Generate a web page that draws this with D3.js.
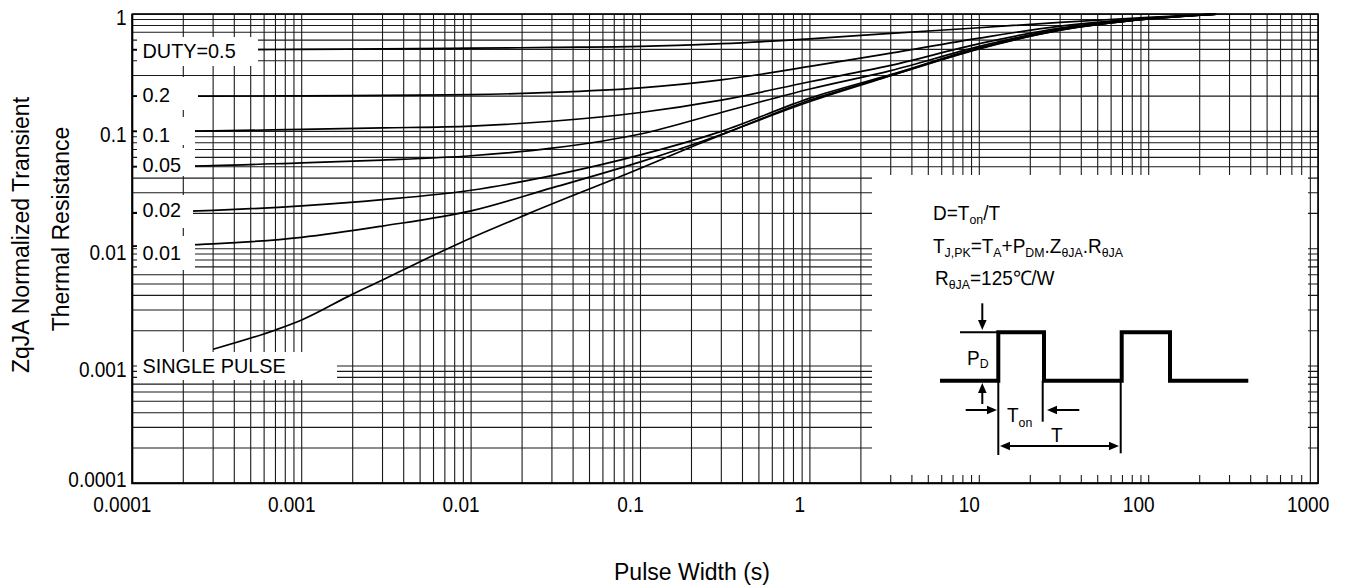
<!DOCTYPE html>
<html><head><meta charset="utf-8">
<script src="https://cdn.jsdelivr.net/npm/d3@7"></script>
<style>
body{margin:0;background:#fff;}
text{font-family:Arial,"Liberation Sans",sans-serif;fill:#000;}
</style>
</head><body>
<svg id="c" width="1346" height="588"></svg>
<script>
// ---------------- data ----------------
const xTickLabels = ["0.0001","0.001","0.01","0.1","1","10","100","1000"];
const yTickLabels = ["0.0001","0.001","0.01","0.1","1"];
const curveLabels = ["DUTY=0.5","0.2","0.1","0.05","0.02","0.01","SINGLE PULSE"];

const pulseWidth = [1e-4, 3e-4, 1e-3, 3e-3, 1e-2, 3e-2, 0.1, 0.3, 1, 3, 10, 30, 100, 250];
const duty05  = [0.495, 0.497, 0.50, 0.505, 0.512, 0.52, 0.53, 0.56, 0.615, 0.685, 0.765, 0.85, 0.94, 1.0];
const duty02  = [0.2, 0.2, 0.201, 0.203, 0.206, 0.215, 0.235, 0.275, 0.358, 0.465, 0.625, 0.79, 0.925, 1.0];
const duty01  = [0.1, 0.101, 0.104, 0.107, 0.111, 0.122, 0.145, 0.185, 0.265, 0.365, 0.56, 0.76, 0.92, 1.0];
const duty005 = [0.05, 0.051, 0.054, 0.057, 0.062, 0.072, 0.095, 0.145, 0.23, 0.33, 0.53, 0.745, 0.915, 1.0];
const duty002 = [0.0202, 0.0212, 0.0232, 0.0262, 0.0315, 0.042, 0.063, 0.1, 0.192, 0.305, 0.515, 0.735, 0.91, 1.0];
const duty001 = [0.0105, 0.011, 0.0125, 0.0156, 0.021, 0.033, 0.055, 0.094, 0.185, 0.3, 0.51, 0.73, 0.91, 1.0];
const singlePulseWidth = [3e-4, 7e-4, 1e-3, 2e-3, 3e-3, 4.5e-3, 8.6e-3, 0.022, 0.08, 0.23, 0.4, 1, 3, 10, 30, 100, 250];
const singlePulse = [0.00139, 0.00203, 0.00247, 0.0041, 0.0054, 0.0072, 0.0112, 0.020, 0.0425, 0.08, 0.11, 0.18, 0.298, 0.505, 0.728, 0.91, 1.0];

// ---------------- layout ----------------
const svg = d3.select("#c");
const X0 = 132.3, X1 = 1318.1, Y0 = 483.3, Y1 = 14.1;
const x = d3.scaleLog().domain([1e-4, 1e3]).range([X0, X1]);
const y = d3.scaleLog().domain([1e-4, 1]).range([Y0, Y1]);

function txt(parent, tx, ty, str, size, sx, anchor){
  return parent.append("text")
    .attr("transform", `translate(${tx},${ty}) scale(${sx},1)`)
    .attr("font-size", size).attr("text-anchor", anchor || "start").text(str);
}

// grid
const grid = svg.append("g").attr("stroke", "#1a1a1a").attr("stroke-width", 1.1);
grid.selectAll(".vx").data(x.ticks()).join("line")
  .attr("x1", d => x(d)).attr("x2", d => x(d)).attr("y1", Y1).attr("y2", Y0);
grid.selectAll(".hy").data(y.ticks()).join("line")
  .attr("x1", X0).attr("x2", X1).attr("y1", d => y(d)).attr("y2", d => y(d));

// curves
const series = [
  pulseWidth.map((p, i) => [p, duty05[i]]),
  pulseWidth.map((p, i) => [p, duty02[i]]),
  pulseWidth.map((p, i) => [p, duty01[i]]),
  pulseWidth.map((p, i) => [p, duty005[i]]),
  pulseWidth.map((p, i) => [p, duty002[i]]),
  pulseWidth.map((p, i) => [p, duty001[i]]),
  singlePulseWidth.map((p, i) => [p, singlePulse[i]])
];
const line = d3.line().x(d => x(d[0])).y(d => y(d[1])).curve(d3.curveMonotoneX);
svg.append("g").selectAll("path").data(series).join("path")
  .attr("d", line).attr("fill", "none").attr("stroke", "#000").attr("stroke-width", 1.7);

// label boxes (white masks) with curve labels
const labelBoxes = [
  {x0:137, y0:37,  x1:258, y1:66,  ty:57.7},
  {x0:137, y0:77,  x1:198, y1:110, ty:101.7},
  {x0:137, y0:117, x1:195, y1:145, ty:141.7},
  {x0:137, y0:148, x1:195, y1:176, ty:172.3},
  {x0:137, y0:195, x1:193, y1:228, ty:217},
  {x0:137, y0:236, x1:195, y1:270, ty:260},
  {x0:137, y0:352, x1:337, y1:380, ty:373}
];
const lb = svg.append("g");
labelBoxes.forEach((b, i) => {
  lb.append("rect").attr("x", b.x0).attr("y", b.y0).attr("width", b.x1 - b.x0).attr("height", b.y1 - b.y0).attr("fill", "#fff");
  txt(lb, 142.5, b.ty, curveLabels[i], 21, 0.945);
});

// inset
const inset = svg.append("g");
inset.append("rect").attr("x", 872).attr("y", 175).attr("width", 436).attr("height", 300).attr("fill", "#fff");

function richLine(tx, ty, parts){
  const t = inset.append("text").attr("transform", `translate(${tx},${ty}) scale(0.95,1)`).attr("font-size", 20);
  let sub = false;
  parts.forEach(p => {
    const isSub = p[1] === 1;
    const s = t.append("tspan").text(p[0]);
    if (isSub && !sub) s.attr("dy", 4).attr("font-size", 13);
    else if (isSub) s.attr("font-size", 13);
    else if (!isSub && sub) s.attr("dy", -4);
    sub = isSub;
  });
  return t;
}
richLine(933, 220, [["D=T",0],["on",1],["/T",0]]);
richLine(933, 253, [["T",0],["J,PK",1],["=T",0],["A",1],["+P",0],["DM",1],[".Z",0],["θJA",1],[".R",0],["θJA",1]]);
richLine(935, 285, [["R",0],["θJA",1],["=125℃/W",0]]);

// pulse waveform
const lowY = 380.7, highY = 332.3;
const wave = [[940,lowY],[998.3,lowY],[998.3,highY],[1044,highY],[1044,lowY],[1121.7,lowY],[1121.7,highY],[1170,highY],[1170,lowY],[1248.3,lowY]];
inset.append("path").attr("d", d3.line()(wave)).attr("fill","none").attr("stroke","#000").attr("stroke-width",4).attr("stroke-linejoin","miter");
const thin = [
  [[960,highY],[998,highY]],
  [[998.3,lowY],[998.3,455]],
  [[1042.7,lowY],[1042.7,421.7]],
  [[1120.7,lowY],[1120.7,453.3]],
  [[982.3,303.3],[982.3,321]],
  [[982.3,404],[982.3,392]],
  [[965.7,410],[988,410]],
  [[1079.3,410],[1056,410]],
  [[1008,446],[1110,446]]
];
inset.selectAll(".thin").data(thin).join("path").attr("d", d => d3.line()(d))
  .attr("fill","none").attr("stroke","#000").attr("stroke-width",2);
const heads = [
  [[982.3,330],[978,320],[986.6,320]],
  [[982.3,383],[978,393],[986.6,393]],
  [[997,410],[987,405.7],[987,414.3]],
  [[1047,410],[1057,405.7],[1057,414.3]],
  [[1000,446],[1010,441.7],[1010,450.3]],
  [[1119,446],[1109,441.7],[1109,450.3]]
];
inset.selectAll(".hd").data(heads).join("path").attr("d", d => d3.line()(d) + "Z").attr("fill","#000");
const pd = inset.append("text").attr("transform","translate(967,365) scale(0.95,1)").attr("font-size",20);
pd.append("tspan").text("P"); pd.append("tspan").attr("dy",3).attr("font-size",13).text("D");
const ton = inset.append("text").attr("transform","translate(1007,421.7) scale(0.95,1)").attr("font-size",20);
ton.append("tspan").text("T"); ton.append("tspan").attr("dy",5).attr("font-size",13).text("on");
txt(inset, 1056.7, 441.7, "T", 20, 0.95, "middle");

// frame
svg.append("rect").attr("x", X0).attr("y", Y1).attr("width", X1 - X0).attr("height", Y0 - Y1)
  .attr("fill","none").attr("stroke","#000").attr("stroke-width",1.5);
svg.append("path").attr("d", `M${X0},${Y1}V${Y0}H${X1}`).attr("fill","none").attr("stroke","#000").attr("stroke-width",2);

// tick labels
const tl = svg.append("g");
xTickLabels.forEach(s => txt(tl, x(+s) - 10, 511.5, s, 21.5, 0.885, "middle"));
yTickLabels.forEach((s, i) => txt(tl, 126.5, y(+s) + (i === 0 ? 4 : 11), s, 21.5, 0.885, "end"));

// titles
svg.append("text").attr("x", 692).attr("y", 580).attr("text-anchor","middle").attr("font-size",23).text("Pulse Width (s)");
svg.append("text").attr("transform","translate(28.5,235) rotate(-90)").attr("text-anchor","middle").attr("font-size",23).text("ZqJA Normalized Transient");
svg.append("text").attr("transform","translate(68.5,229) rotate(-90)").attr("text-anchor","middle").attr("font-size",23).text("Thermal Resistance");
</script>
</body></html>
